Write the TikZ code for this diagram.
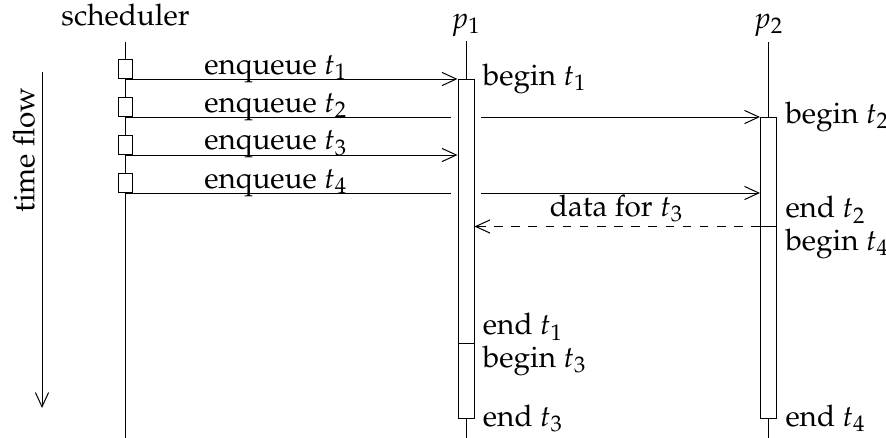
\documentclass[tikz,border=0pt]{standalone}
\usepackage[T1]{fontenc}
\usepackage{mathpazo}
\usepackage{tikz}
\usetikzlibrary{arrows.meta,fit}

\begin{document}
\begin{tikzpicture}[x=0.35pt,y=-0.35pt,line width=0.35pt,
    font=\fontsize{10.4}{12.5}\selectfont,
    >={Straight Barb[length=5pt,width=4.6pt]},
    act/.style={draw,fill=white,inner sep=0pt},
    queue/.style={draw,fill=white,inner sep=0pt,minimum width=5.2pt,minimum height=6.6pt,anchor=south},
    ev/.style={inner xsep=2.8pt,inner ysep=1pt}]
   \useasboundingbox (0,0) rectangle (886,438);
   % heads and lifelines
   \node[anchor=base] (sched) at (125.5,25) {scheduler};
   \node[anchor=base] (p_1) at (466,28) {$p_1$};
   \node[anchor=base] (p_2) at (768.5,28) {$p_2$};
   \foreach \n/\x/\y in {sched/125.5/42, p_1/466/41, p_2/768.5/42}
      \draw (\x,\y) coordinate (\n_top) -- (\x,438) coordinate (\n_bot);
   % time axis
   \node[rotate=90] (flow) at (24,150) {time flow};
   \draw[->] (42,72) coordinate (flow_top) -- (42,408) coordinate (flow_end);
   % p_2 runs
   \node[act, fit={(760.5,117) (776.5,226)}] (run_2) {};
   \node[act, fit={(760.5,226) (776.5,418)}] (run_4) {};
   % enqueues
   \foreach \i/\y in {1/79,2/117,3/155,4/193}
      \node[queue] (q_\i) at (125.5,\y) {};
   \foreach \i/\y in {1/74,2/112,3/150,4/188}
      \node[anchor=base] (e_\i) at (276,\y) {enqueue $t_\i$};
   \path[->]
    (q_2.south) edge (q_2.south -| run_2.west)
    (q_4.south) edge (q_4.south -| run_2.west);
   \fill[white] (451,79) rectangle (481,418);
   % p_1 runs
   \node[act, fit={(458,79) (474,343)}] (run_1) {};
   \node[act, fit={(458,343) (474,418)}] (run_3) {};
   \path[->]
    (q_1.south) edge (q_1.south -| run_1.west)
    (q_3.south) edge (q_3.south -| run_1.west);
   \draw[->, dashed] (run_2.south east) -- node[pos=.53, above, inner sep=1.5pt] (data) {data for $t_3$} (run_2.south east -| run_1.east);
   % events
   \node[ev, right] (b_1) at (run_1.north east) {begin $t_1$};
   \node[ev, anchor=south west] (f_1) at (run_1.south east) {end $t_1$};
   \node[ev, anchor=north west] (b_3) at (run_3.north east) {begin $t_3$};
   \node[ev, right] (f_3) at (run_3.south east) {end $t_3$};
   \node[ev, right] (b_2) at (run_2.north east) {begin $t_2$};
   \node[ev, anchor=south west] (f_2) at (run_2.south east) {end $t_2$};
   \node[ev, anchor=north west] (b_4) at (run_4.north east) {begin $t_4$};
   \node[ev, right] (f_4) at (run_4.south east) {end $t_4$};
\end{tikzpicture}
\end{document}
